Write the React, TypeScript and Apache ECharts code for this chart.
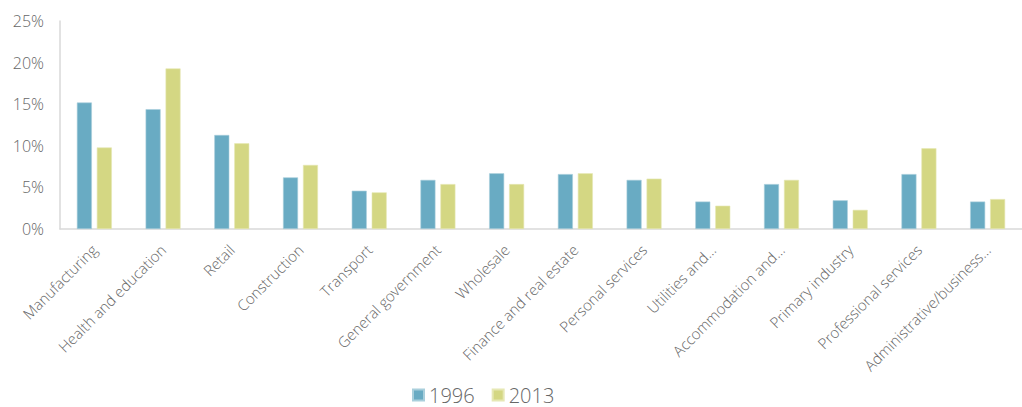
import React, { useEffect, useRef } from "react";
import * as echarts from "echarts";

const categories = [
  "Manufacturing",
  "Health and education",
  "Retail",
  "Construction",
  "Transport",
  "General government",
  "Wholesale",
  "Finance and real estate",
  "Personal services",
  "Utilities and…",
  "Accommodation and…",
  "Primary industry",
  "Professional services",
  "Administrative/business…",
];
const values1996 = [15.2, 14.4, 11.3, 6.2, 4.6, 5.9, 6.7, 6.6, 5.9, 3.3, 5.4, 3.45, 6.6, 3.3];
const values2013 = [9.8, 19.3, 10.3, 7.7, 4.4, 5.4, 5.4, 6.7, 6.05, 2.8, 5.9, 2.3, 9.7, 3.6];
const yTicks = [0, 5, 10, 15, 20, 25];

const FONT = "'Open Sans', Lato, 'Noto Sans', sans-serif";

export default function App() {
  const ref = useRef<HTMLDivElement>(null);
  useEffect(() => {
    if (!ref.current) return;
    const chart = echarts.init(ref.current, null, { renderer: "svg" });
    chart.setOption({
      animation: false,
      textStyle: { fontFamily: FONT },
      grid: { left: 60, top: 21, bottom: 178, right: -6, containLabel: false },
      legend: {
        top: 385,
        left: 412,
        padding: 0,
        itemWidth: 11,
        itemHeight: 11,
        itemGap: 17,
        icon: "rect",
        textStyle: {
          fontSize: 20,
          lineHeight: 20,
          color: "#666666",
          fontFamily: FONT,
          fontWeight: 300,
        },
        data: ["1996", "2013"],
      },
      xAxis: {
        type: "category",
        data: categories,
        axisLine: { lineStyle: { color: "#d9d9d9", width: 1.5 } },
        axisTick: { show: false },
        axisLabel: {
          rotate: 45,
          interval: 0,
          margin: 18,
          fontSize: 15,
          fontWeight: 300,
          color: "#666666",
          fontFamily: FONT,
        },
      },
      yAxis: {
        type: "value",
        min: yTicks[0],
        max: yTicks[yTicks.length - 1],
        interval: 5,
        axisLine: { show: true, lineStyle: { color: "#d9d9d9", width: 1.5 } },
        axisTick: { show: false },
        splitLine: { show: false },
        axisLabel: {
          formatter: "{value}%",
          fontSize: 16,
          fontWeight: 300,
          color: "#666666",
          margin: 16,
          fontFamily: FONT,
        },
      },
      series: [
        {
          name: "1996",
          type: "bar",
          data: values1996,
          barWidth: 15,
          barGap: "33%",
          itemStyle: { color: "#69abc3", borderColor: "#a9cfdc", borderWidth: 0.6 },
        },
        {
          name: "2013",
          type: "bar",
          data: values2013,
          barWidth: 15,
          itemStyle: { color: "#d4d783", borderColor: "#e6e8b4", borderWidth: 0.6 },
        },
      ],
    });
    return () => chart.dispose();
  }, []);
  return (
    <div
      ref={ref}
      style={{ position: "absolute", left: 0, top: 0, width: 1022, height: 407 }}
    />
  );
}
